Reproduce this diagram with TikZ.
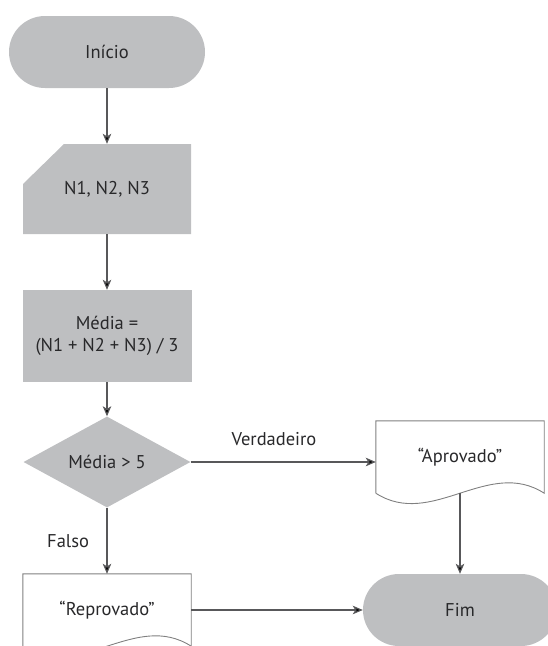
\documentclass[tikz,border=0pt]{standalone}
\usepackage{fontspec}
\setmainfont{PT Sans}
\usetikzlibrary{arrows.meta,shapes.geometric}

\definecolor{boxgray}{RGB}{190,191,193}
\definecolor{linegray}{RGB}{88,88,90}
\definecolor{textgray}{RGB}{40,40,42}

\begin{document}
\begin{tikzpicture}[x=1pt,y=-1pt,->,>={Stealth[length=10pt,width=8.5pt,inset=2.5pt]},auto,
        every node/.style={font=\fontsize{18.5pt}{22pt}\selectfont,text=textgray},
        term/.style={rectangle,rounded corners=36pt,fill=boxgray,
          minimum width=196pt,minimum height=72pt},
        inbox/.style={rectangle,minimum width=168pt,minimum height=90pt,
          path picture={\fill[boxgray] (path picture bounding box.south west)
            -- ([yshift=-40pt]path picture bounding box.north west)
            -- ([xshift=41pt]path picture bounding box.north west)
            -- (path picture bounding box.north east)
            -- (path picture bounding box.south east) -- cycle;}},
        procbox/.style={rectangle,fill=boxgray,align=center,
          minimum width=169pt,minimum height=92pt},
        decision/.style={diamond,fill=boxgray,inner sep=0pt,
          minimum width=167pt,minimum height=88pt},
        doc/.style={rectangle,minimum width=168pt,minimum height=72pt},
        flow/.style={draw=linegray,line width=1.2pt}]

  \useasboundingbox (0,0) rectangle (548,646);
  \clip (0,0) rectangle (548,646);

  \node[term] (Inicio) at (107,52) {Início};
  \node[inbox] (Entrada) [below of=Inicio,node distance=137pt] {N1, N2, N3};
  \node[procbox] (Media) [below of=Entrada,node distance=147pt] {Média =\\(N1 + N2 + N3) / 3};
  \node[decision] (Decisao) [below of=Media,node distance=126pt] {Média > 5};
  \node[doc] (Reprovado) [below of=Decisao,node distance=148pt] {“Reprovado”};
  \node[doc] (Aprovado) [right of=Decisao,node distance=353pt,yshift=5pt] {“Aprovado”};
  \node[term] (Fim) [below of=Aprovado,node distance=153pt,minimum width=194pt] {Fim};

  % document outlines with wavy bottom
  \foreach \d in {Aprovado,Reprovado}
    \draw[-,draw=gray,line width=0.9pt] (\d.south west) -- (\d.north west) -- (\d.north east)
      -- (\d.south east)
      .. controls ([xshift=-56pt,yshift=36pt]\d.south east)
      and ([xshift=56pt,yshift=-36pt]\d.south west) .. (\d.south west);

  \path[flow] (Inicio) edge (Entrada)
        (Entrada) edge (Media)
        (Media) edge (Decisao)
        (Decisao) edge node[left=14pt] {Falso} (Reprovado)
        (Decisao) edge node[above=12pt,pos=0.45] {Verdadeiro} (Decisao -| Aprovado.west)
        (Aprovado) edge (Fim)
        (Reprovado) edge (Fim);
\end{tikzpicture}
\end{document}
